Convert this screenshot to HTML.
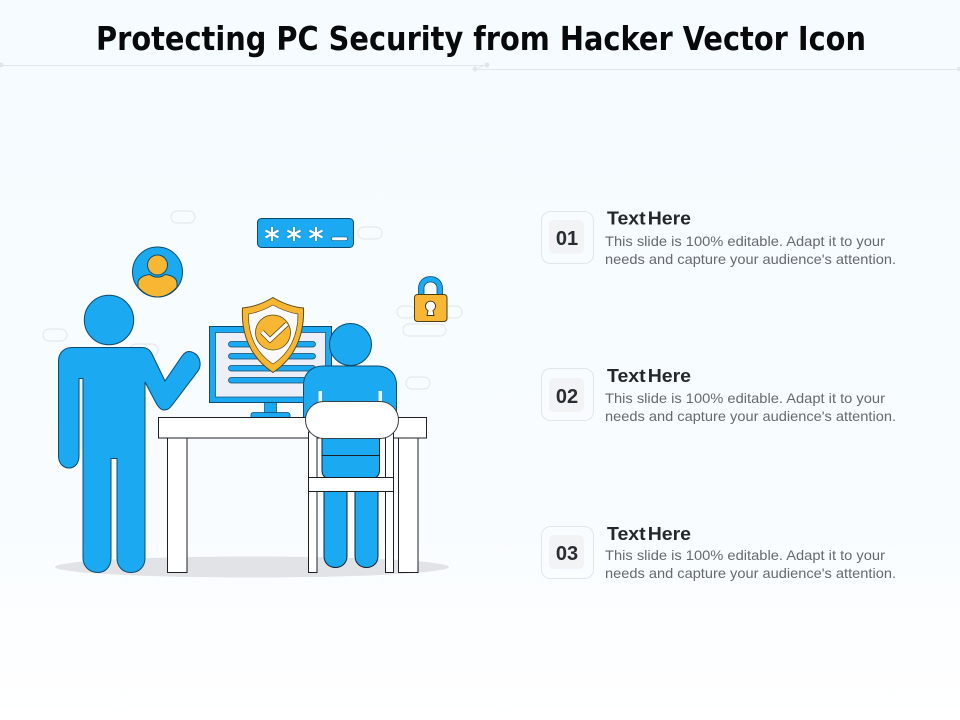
<!DOCTYPE html>
<html><head><meta charset="utf-8"><style>
html,body{margin:0;padding:0;background:#fff}
svg{display:block}
.h{font:bold 18px "Liberation Sans",sans-serif;fill:#25282b;word-spacing:-3px}
.b{font:14px "Liberation Sans",sans-serif;fill:#66696d}
.n{font:bold 20px "Liberation Sans",sans-serif;fill:#2a2c2f;text-anchor:middle}
</style></head><body>
<svg width="960" height="720" viewBox="0 0 960 720" xmlns="http://www.w3.org/2000/svg">
<defs><linearGradient id="bg" x1="0" y1="0" x2="0" y2="1"><stop offset="0" stop-color="#f5fbff"/><stop offset=".7" stop-color="#f8fcff"/><stop offset="1" stop-color="#ffffff"/></linearGradient></defs>
<rect width="960" height="720" fill="url(#bg)"/>
<g stroke="#e2e6eb" fill="none"><path d="M0 65.5H484L474 69.5H960"/></g>
<g fill="#e2e6eb"><circle cx="1" cy="65" r="2.5"/><circle cx="487" cy="65" r="2.5"/><circle cx="475" cy="69" r="2.5"/><circle cx="959" cy="69" r="2"/></g>
<text x="96" y="50" font-family="DejaVu Sans,sans-serif" font-weight="bold" font-size="33" fill="#08090b" textLength="770" lengthAdjust="spacingAndGlyphs">Protecting PC Security from Hacker Vector Icon</text>

<!-- ghost pills -->
<g fill="none" stroke="#e6e9ee" stroke-width="1.2">
<rect x="171" y="211" width="24" height="12" rx="6"/><rect x="358" y="227" width="24" height="12" rx="6"/>
<rect x="397" y="306" width="18" height="12" rx="6"/><rect x="445" y="306" width="17" height="12" rx="6"/>
<rect x="403" y="324" width="43" height="12" rx="6"/><rect x="406" y="377" width="24" height="12" rx="6"/>
<rect x="43" y="329" width="24" height="12" rx="6"/><rect x="130" y="344" width="28" height="12" rx="6"/>
</g>

<ellipse cx="252" cy="567" rx="197" ry="10.5" fill="#e1e3e6"/>

<!-- standing person -->
<g fill="#1ba9f1" stroke="#0f4a6e" stroke-width="1">
<circle cx="109" cy="320" r="24.7"/>
<path d="M72 347.5C64 347.5 58.500 353 58.500 361V456C58.500 463 63 468 69 468C75 468 79 463 79 456V378.500H83V558C83 567 90 572.500 98 572.500C105 572.500 111 567 111 558V458.500H117V558C117 567 123 572.500 131 572.500C139 572.500 145 567 145 558V382L155 401C158 407 161 410 164 410C168 410 170 408 173 404L198 371C202 365 200 356 194 353C189 350 185 352 182 356L165 381L152 354C150 350 147 347.500 142 347.500Z"/>
</g>
<path d="M79.500 379H82.500V450H79.500Z" fill="#eef4f8"/>

<!-- avatar -->
<circle cx="157.500" cy="272" r="25" fill="#1ba9f1" stroke="#0f4a6e"/>
<circle cx="157.500" cy="265" r="10" fill="#f7b733" stroke="#0f4a6e"/>
<path d="M138 283C138 278 144 275 150 274.500C154 278 161 278 165 274.500C171 275 177 278 177 283V287C171 294 165 297 157.500 297C150 297 144 294 138 287Z" fill="#f7b733" stroke="#0f4a6e"/>

<!-- monitor -->
<rect x="264.500" y="401" width="12" height="12" fill="#1ba9f1" stroke="#0f4a6e" stroke-width=".7"/>
<path d="M251 418V415Q251 412.500 254 412.500H287Q290 412.500 290 415V418Z" fill="#1ba9f1" stroke="#0f4a6e" stroke-width=".8"/>
<rect x="209.500" y="326.500" width="122" height="76" fill="#1ba9f1" stroke="#0f4a6e"/>
<rect x="215.500" y="332.500" width="110" height="64.500" fill="#eceff7" stroke="#0f4a6e" stroke-width=".7"/>
<g fill="#1ba9f1" stroke="#0f4a6e" stroke-width=".7">
<rect x="228.500" y="341.500" width="87" height="5.500" rx="2.700"/><rect x="228.500" y="353.500" width="87" height="5.500" rx="2.700"/>
<rect x="228.500" y="365.500" width="87" height="5.500" rx="2.700"/><rect x="228.500" y="377.500" width="87" height="5.500" rx="2.700"/>
</g>

<!-- shield -->
<path d="M273 297.500C282 303 293 307 303.500 308C304.500 335 295 358 273 372.500C251 358 241 335 242.500 308C253 307 264 303 273 297.500Z" fill="#f7b733" stroke="#5a4a1c"/>
<path d="M273 305C281 309.500 288 312.500 298 314C298 335 290 353 273 364C256 353 248 335 248.500 314C258 312.500 265 309.500 273 305Z" fill="#fbfbfb" stroke="#5a4a1c" stroke-width=".7"/>
<circle cx="273" cy="332.500" r="17.500" fill="#f7b733" stroke="#5a4a1c" stroke-width=".8"/>
<path d="M262 332L270 340L287 324" fill="none" stroke="#5a4a1c" stroke-width="5"/>
<path d="M262 332L270 340L287 324" fill="none" stroke="#fff" stroke-width="3.500"/>

<!-- sitting person -->
<circle cx="350.500" cy="344.500" r="21" fill="#1ba9f1" stroke="#0f4a6e"/>
<path d="M303.500 432V385C303.500 373 312 366 323 366H377C388 366 396.500 373 396.500 385V432Z" fill="#1ba9f1" stroke="#0f4a6e"/>
<rect x="318.500" y="391" width="3.500" height="12" fill="#eef4f8"/><rect x="378.500" y="391" width="3.500" height="12" fill="#eef4f8"/>

<!-- table -->
<rect x="158.500" y="417.500" width="268" height="20.500" fill="#fff" stroke="#1d2126"/>
<rect x="167.500" y="438" width="19.500" height="134.500" fill="#fff" stroke="#1d2126"/>
<rect x="398.500" y="438" width="19.500" height="134.500" fill="#fff" stroke="#1d2126"/>

<!-- lower sitter -->
<path d="M322 430H379.500V470Q379.500 478 372 478H329Q322 478 322 470Z" fill="#1ba9f1" stroke="#1d2126"/>
<path d="M322 455.500H379.500" stroke="#1d2126"/>
<path d="M324 490V556C324 563 329 567.500 335.500 567.500C342 567.500 347 563 347 556V490Z" fill="#1ba9f1" stroke="#1d2126"/>
<path d="M355 490V556C355 563 360 567.500 366.500 567.500C373 567.500 378 563 378 556V490Z" fill="#1ba9f1" stroke="#1d2126"/>

<!-- chair -->
<rect x="308.500" y="432" width="8.500" height="140.500" fill="#fff" stroke="#1d2126"/>
<rect x="385.500" y="432" width="8" height="140.500" fill="#fff" stroke="#1d2126"/>
<rect x="308.500" y="477.500" width="85" height="14" fill="#fff" stroke="#1d2126"/>
<rect x="305.500" y="401.500" width="93" height="37" rx="18.500" fill="#fff" stroke="#3a3f45"/>

<!-- password -->
<rect x="257.500" y="218.500" width="96" height="29" rx="4" fill="#1ba9f1" stroke="#0f4a6e"/>
<g stroke="#0f4a6e" stroke-width="3.200" fill="none" opacity=".55">
<path d="M272 227V241M265.500 230.500L278.500 237.500M278.500 230.500L265.500 237.500"/>
<path d="M294 227V241M287.500 230.500L300.500 237.500M300.500 230.500L287.500 237.500"/>
<path d="M316 227V241M309.500 230.500L322.500 237.500M322.500 230.500L309.500 237.500"/>
</g>
<g stroke="#fff" stroke-width="2.200" fill="none">
<path d="M272 227V241M265.500 230.500L278.500 237.500M278.500 230.500L265.500 237.500"/>
<path d="M294 227V241M287.500 230.500L300.500 237.500M300.500 230.500L287.500 237.500"/>
<path d="M316 227V241M309.500 230.500L322.500 237.500M322.500 230.500L309.500 237.500"/>
</g>
<rect x="331.500" y="237" width="16" height="3.500" rx="1.700" fill="#fff" stroke="#0f4a6e" stroke-width=".6"/>

<!-- lock -->
<path d="M418.500 296V288C418.500 281 424 276.500 430.500 276.500C437 276.500 442.500 281 442.500 288V296H437V288C437 284.500 434 282 430.500 282C427 282 424 284.500 424 288V296Z" fill="#1ba9f1" stroke="#0f4a6e" stroke-width=".8"/>
<rect x="414.500" y="294.500" width="32.500" height="27" rx="3" fill="#f7b733" stroke="#4b3f1a"/>
<path d="M428 310.500A5 5 0 1 1 433 310.500L434 315.500H427Z" fill="#fff" stroke="#3b3218" stroke-width=".9"/>

<!-- rows -->
<g>
<rect x="541.500" y="211.500" width="52" height="52" rx="9" fill="none" stroke="#e2e6ea"/>
<rect x="549" y="220" width="35" height="33.500" rx="5" fill="#f2f3f4"/>
<text class="n" x="567" y="245">01</text>
<text class="h" x="607" y="224.500" textLength="84" lengthAdjust="spacingAndGlyphs">Text Here</text>
<text class="b" x="605" y="246" textLength="280" lengthAdjust="spacingAndGlyphs">This slide is 100% editable. Adapt it to your</text>
<text class="b" x="605" y="264" textLength="291" lengthAdjust="spacingAndGlyphs">needs and capture your audience's attention.</text>
</g>
<g>
<rect x="541.500" y="368.500" width="52" height="52" rx="9" fill="none" stroke="#e2e6ea"/>
<rect x="549" y="378" width="35" height="34" rx="5" fill="#f2f3f4"/>
<text class="n" x="567" y="403">02</text>
<text class="h" x="607" y="382" textLength="84" lengthAdjust="spacingAndGlyphs">Text Here</text>
<text class="b" x="605" y="403" textLength="280" lengthAdjust="spacingAndGlyphs">This slide is 100% editable. Adapt it to your</text>
<text class="b" x="605" y="421" textLength="291" lengthAdjust="spacingAndGlyphs">needs and capture your audience's attention.</text>
</g>
<g>
<rect x="541.500" y="526.500" width="52" height="52" rx="9" fill="none" stroke="#e2e6ea"/>
<rect x="549" y="535" width="35" height="34" rx="5" fill="#f2f3f4"/>
<text class="n" x="567" y="560">03</text>
<text class="h" x="607" y="540" textLength="84" lengthAdjust="spacingAndGlyphs">Text Here</text>
<text class="b" x="605" y="560" textLength="280" lengthAdjust="spacingAndGlyphs">This slide is 100% editable. Adapt it to your</text>
<text class="b" x="605" y="578" textLength="291" lengthAdjust="spacingAndGlyphs">needs and capture your audience's attention.</text>
</g>
</svg>
</body></html>
